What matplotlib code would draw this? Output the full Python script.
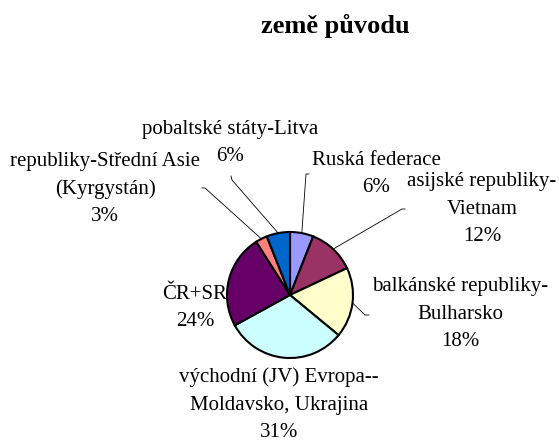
import matplotlib.pyplot as plt
import numpy as np

plt.rcParams['font.family'] = ['Liberation Serif', 'DejaVu Serif']

# data
categories = ["Ruská federace",
              "asijské republiky-\nVietnam",
              "balkánské republiky-\nBulharsko",
              "východní (JV) Evropa--\nMoldavsko, Ukrajina",
              "ČR+SR",
              "republiky-Střední Asie\n(Kyrgystán)",
              "pobaltské státy-Litva"]
shares = [6, 12, 18, 31, 24, 3, 6]
colors = ["#9999FF", "#993366", "#FFFFCC", "#CCFFFF", "#660066", "#FF8080", "#0066CC"]

# layout (pixel coords, y from top)
W, H = 559, 440
label_pos = [(376, 174), (482, 209), (460, 314), (279, 405), (195, 308), (105, 189), (230, 143)]
elbows = [((306, 174), (309, 174)),
          ((402, 209), (405, 209)),
          ((365, 315), (369, 315)),
          None,
          None,
          ((205, 188), (202, 188)),
          ((232, 180), (231, 176))]

fig = plt.figure(figsize=(W / 100, H / 100), dpi=100)
ax = fig.add_axes([0, 0, 1, 1])

cx, cy, r = 290, H - 295, 63
wedges, _ = ax.pie(shares, colors=colors, startangle=90, counterclock=False,
                   center=(cx, cy), radius=r,
                   wedgeprops=dict(edgecolor='black', linewidth=1.5))
ax.set_xlim(0, W)
ax.set_ylim(0, H)
ax.set_aspect('equal')
ax.axis('off')

for w, lab, v, (lx, ly), elb in zip(wedges, categories, shares, label_pos, elbows):
    ax.text(lx, H - ly, f"{lab}\n{v}%", ha='center', va='center',
            fontsize=15, linespacing=1.6)
    if elb is None:
        continue
    t = np.deg2rad((w.theta1 + w.theta2) / 2)
    sx, sy = cx + r * np.cos(t), cy + r * np.sin(t)
    (ex, ey), (tx, ty) = elb
    ax.plot([sx, ex, tx], [sy, H - ey, H - ty], color='black', lw=0.6)

ax.text(335, H - 26, "země původu", ha='center', va='center',
        fontsize=19, fontweight='bold')

fig.savefig("out.png", dpi=100)
